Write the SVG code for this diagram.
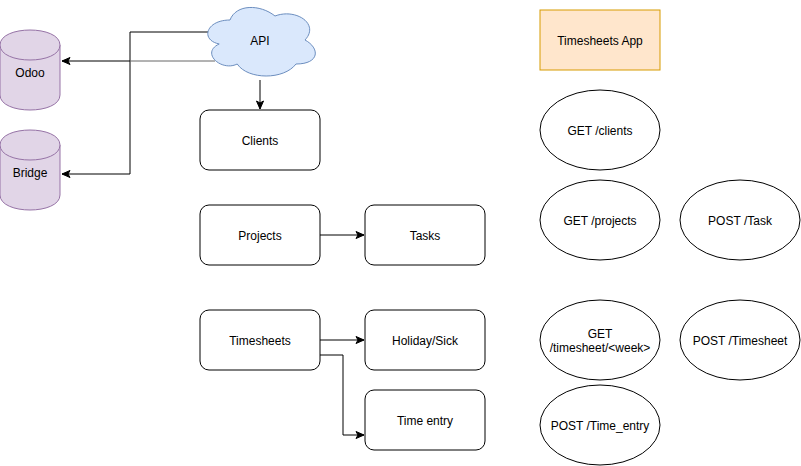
<svg xmlns="http://www.w3.org/2000/svg" width="801" height="466" viewBox="0 0 801 466">
<defs>
<marker id="arr" markerWidth="10" markerHeight="10" refX="9" refY="5" orient="auto" markerUnits="userSpaceOnUse">
<path d="M1,1.5 L9,5 L1,8.5 L3,5 Z" fill="#000" stroke="#000" stroke-width="1"/>
</marker>
</defs>
<style>
text{font-family:"Liberation Sans",Arial,Helvetica,sans-serif;font-size:12px;fill:#000;text-anchor:middle;dominant-baseline:central}
.box{fill:#fff;stroke:#000;stroke-width:1}
.db{fill:#e1d5e7;stroke:#9673a6;stroke-width:1}
.edge{fill:none;stroke:#000;stroke-width:1;marker-end:url(#arr)}
</style>
<rect width="801" height="466" fill="#fff"/>
<g id="connectors">
<path class="edge" d="M208,32 L130,32 L130,174 L62,174"/>
<path d="M215,61 L130,61" fill="none" stroke="#666" stroke-width="1"/>
<path class="edge" d="M130,61 L62,61"/>
<path class="edge" d="M260,80 L260,109"/>
<path class="edge" d="M320,235 L364,235"/>
<path class="edge" d="M320,340 L364,340"/>
<path class="edge" d="M320,355 L343,355 L343,435 L364,435"/>
</g>
<g id="odoo">
<path class="db" d="M0,45 C0,25 60,25 60,45 L60,95 C60,115 0,115 0,95 Z"/>
<path class="db" d="M0,45 C0,65 60,65 60,45" fill="none"/>
<text x="30" y="73">Odoo</text>
</g>
<g id="bridge">
<path class="db" d="M0,145 C0,125 60,125 60,145 L60,195 C60,215 0,215 0,195 Z"/>
<path class="db" d="M0,145 C0,165 60,165 60,145" fill="none"/>
<text x="30" y="173">Bridge</text>
</g>
<g id="api">
<path d="M230,20 C206,20 200,40 219.2,44 C200,52.8 221.6,72 237.2,64 C248,80 284,80 296,64 C320,64 320,48 305,40 C320,24 296,8 275,16 C260,4 236,4 230,20 Z" fill="#dae8fc" stroke="#6c8ebf" stroke-width="1"/>
<text x="260" y="41">API</text>
</g>
<g id="clients">
<rect class="box" x="200" y="110" width="120" height="60" rx="9"/>
<text x="260" y="141">Clients</text>
</g>
<g id="projects">
<rect class="box" x="200" y="205" width="120" height="60" rx="9"/>
<text x="260" y="236">Projects</text>
</g>
<g id="tasks">
<rect class="box" x="365" y="205" width="120" height="60" rx="9"/>
<text x="425" y="236">Tasks</text>
</g>
<g id="timesheets">
<rect class="box" x="200" y="310" width="120" height="60" rx="9"/>
<text x="260" y="341">Timesheets</text>
</g>
<g id="holiday">
<rect class="box" x="365" y="310" width="120" height="60" rx="9"/>
<text x="425" y="341">Holiday/Sick</text>
</g>
<g id="timeentry">
<rect class="box" x="365" y="390" width="120" height="60" rx="9"/>
<text x="425" y="421">Time entry</text>
</g>
<g id="app">
<rect x="540" y="10" width="120" height="60" fill="#ffe6cc" stroke="#d79b00" stroke-width="1"/>
<text x="600" y="41">Timesheets App</text>
</g>
<g id="get-clients">
<ellipse class="box" cx="600" cy="130" rx="60" ry="40"/>
<text x="600" y="131">GET /clients</text>
</g>
<g id="get-projects">
<ellipse class="box" cx="600" cy="220" rx="60" ry="40"/>
<text x="600" y="221">GET /projects</text>
</g>
<g id="post-task">
<ellipse class="box" cx="740" cy="220" rx="60" ry="40"/>
<text x="740" y="221">POST /Task</text>
</g>
<g id="get-timesheet">
<ellipse class="box" cx="600" cy="340" rx="60" ry="40"/>
<text x="600" y="334">GET</text>
<text x="600" y="348">/timesheet/&lt;week&gt;</text>
</g>
<g id="post-timesheet">
<ellipse class="box" cx="740" cy="340" rx="60" ry="40"/>
<text x="740" y="341">POST /Timesheet</text>
</g>
<g id="post-timeentry">
<ellipse class="box" cx="600" cy="425" rx="60" ry="40"/>
<text x="600" y="426">POST /Time_entry</text>
</g>
</svg>
